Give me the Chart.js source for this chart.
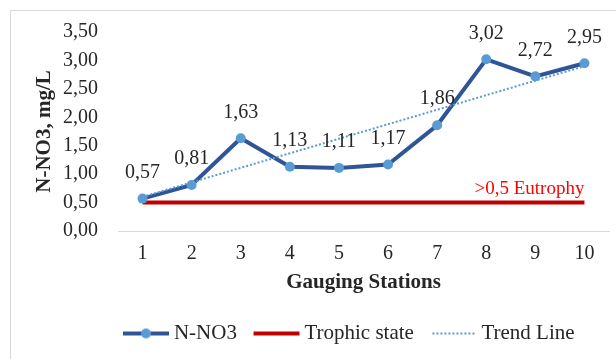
<!DOCTYPE html>
<html>
<head>
<meta charset="utf-8">
<script src="https://cdn.jsdelivr.net/npm/chart.js@4/dist/chart.umd.min.js"></script>
<style>
  html, body { margin: 0; padding: 0; background: #ffffff; overflow: hidden; }
  #frame { position: absolute; left: 10px; top: 10px; width: 700px; height: 400px; border: 1px solid #d9d9d9; }
  #chart { position: absolute; left: 0; top: 0; }
</style>
</head>
<body>
<div id="frame"></div>
<canvas id="chart" width="616" height="359"></canvas>
<script>
// Gauging stations along the river and measured nitrate nitrogen (mg/L)
const stations = ['1', '2', '3', '4', '5', '6', '7', '8', '9', '10'];
const nitrate = [0.57, 0.81, 1.63, 1.13, 1.11, 1.17, 1.86, 3.02, 2.72, 2.95];
// Eutrophy threshold (trophic state) for every station
const trophicState = [0.5, 0.5, 0.5, 0.5, 0.5, 0.5, 0.5, 0.5, 0.5, 0.5];
// Linear trend: value at the first and last station, joined by a straight line
const trendLine = [0.60, null, null, null, null, null, null, null, null, 2.90];
const yTickValues = [0, 0.5, 1, 1.5, 2, 2.5, 3, 3.5];
const thresholdLabel = '>0,5 Eutrophy';

const SERIF = '"Liberation Serif", "Times New Roman", serif';
const TEXT = '#262626';
const BLUE_DARK = '#2f5597';
const BLUE_LIGHT = '#5b9bd5';
const RED = '#c00000';
const fmt = v => v.toFixed(2).replace('.', ',');

// Legend icons: drawn in the right-hand part of a 60px-wide canvas
function legendIcon(draw) {
  const c = document.createElement('canvas');
  c.width = 60; c.height = 12;
  draw(c.getContext('2d'));
  return c;
}
const legendIcons = [
  legendIcon(ctx => {
    ctx.strokeStyle = BLUE_DARK; ctx.lineWidth = 4;
    ctx.beginPath(); ctx.moveTo(13, 6); ctx.lineTo(59, 6); ctx.stroke();
    ctx.fillStyle = BLUE_LIGHT;
    ctx.beginPath(); ctx.arc(36, 6, 5, 0, Math.PI * 2); ctx.fill();
  }),
  legendIcon(ctx => {
    ctx.strokeStyle = RED; ctx.lineWidth = 4;
    ctx.beginPath(); ctx.moveTo(13, 6); ctx.lineTo(59, 6); ctx.stroke();
  }),
  legendIcon(ctx => {
    ctx.strokeStyle = BLUE_LIGHT; ctx.lineWidth = 2; ctx.setLineDash([2, 2]);
    ctx.beginPath(); ctx.moveTo(15, 6); ctx.lineTo(59, 6); ctx.stroke();
  })
];

// Value labels above the nitrate points and the threshold caption
const valueLabels = {
  id: 'valueLabels',
  afterDatasetsDraw(chart) {
    const ctx = chart.ctx;
    ctx.save();
    ctx.font = '20px ' + SERIF;
    ctx.textBaseline = 'middle';
    ctx.textAlign = 'center';
    ctx.fillStyle = TEXT;
    chart.getDatasetMeta(0).data.forEach((pt, i) => {
      ctx.fillText(fmt(nitrate[i]), pt.x, pt.y - 26);
    });
    const red = chart.getDatasetMeta(1).data;
    const last = red[red.length - 1];
    ctx.font = '19px ' + SERIF;
    ctx.textAlign = 'right';
    ctx.fillStyle = '#ff0000';
    ctx.fillText(thresholdLabel, last.x, last.y - 14);
    ctx.restore();
  }
};

// Moves the legend row a little to the right of the canvas centre
const legendShift = {
  id: 'legendShift',
  afterLayout(chart) {
    const lg = chart.legend;
    if (lg) { lg.left += 25; lg.right += 25; }
  }
};

new Chart(document.getElementById('chart'), {
  type: 'line',
  data: {
    labels: stations,
    datasets: [
      {
        label: 'N-NO3',
        data: nitrate,
        borderColor: BLUE_DARK,
        borderWidth: 4,
        pointStyle: 'circle',
        pointRadius: 5,
        pointBorderWidth: 0,
        pointBackgroundColor: BLUE_LIGHT,
        tension: 0,
        order: 2
      },
      {
        label: 'Trophic state',
        data: trophicState,
        borderColor: RED,
        borderWidth: 4,
        pointRadius: 0,
        order: 3
      },
      {
        label: 'Trend Line',
        data: trendLine,
        spanGaps: true,
        borderColor: BLUE_LIGHT,
        borderWidth: 2,
        borderDash: [2, 2],
        pointRadius: 0,
        order: 1
      }
    ]
  },
  options: {
    responsive: false,
    animation: false,
    devicePixelRatio: 1,
    layout: { padding: { left: 32, right: 7, top: 32, bottom: 5 } },
    plugins: {
      tooltip: { enabled: false },
      legend: {
        position: 'bottom',
        labels: {
          usePointStyle: true,
          pointStyleWidth: 47,
          padding: 10,
          color: TEXT,
          font: { family: SERIF, size: 21 },
          generateLabels(chart) {
            return chart.data.datasets.map((ds, i) => ({
              text: ds.label,
              pointStyle: legendIcons[i],
              fillStyle: 'transparent',
              strokeStyle: 'transparent',
              lineWidth: 0,
              fontColor: TEXT,
              datasetIndex: i,
              hidden: false
            }));
          }
        }
      }
    },
    scales: {
      x: {
        offset: true,
        afterFit(scale) { scale.height = 82; },
        grid: { display: false, drawTicks: false },
        border: { display: true, color: '#d9d9d9', width: 1 },
        ticks: { color: TEXT, padding: 11, font: { family: SERIF, size: 20 } },
        title: {
          display: true,
          text: 'Gauging Stations',
          color: TEXT,
          padding: { top: 0, bottom: 18 },
          font: { family: SERIF, size: 21, weight: 'bold' }
        }
      },
      y: {
        min: 0,
        max: 3.5,
        afterBuildTicks(axis) { axis.ticks = yTickValues.map(v => ({ value: v })); },
        afterFit(scale) { scale.width = 86; },
        grid: { display: false, drawTicks: false },
        border: { display: false },
        ticks: {
          color: TEXT,
          padding: 20,
          font: { family: SERIF, size: 20 },
          callback: v => fmt(v)
        },
        title: {
          display: true,
          text: 'N-NO3, mg/L',
          color: TEXT,
          padding: { top: 0, bottom: 0 },
          font: { family: SERIF, size: 21, weight: 'bold' }
        }
      }
    }
  },
  plugins: [valueLabels, legendShift]
});
</script>
</body>
</html>
